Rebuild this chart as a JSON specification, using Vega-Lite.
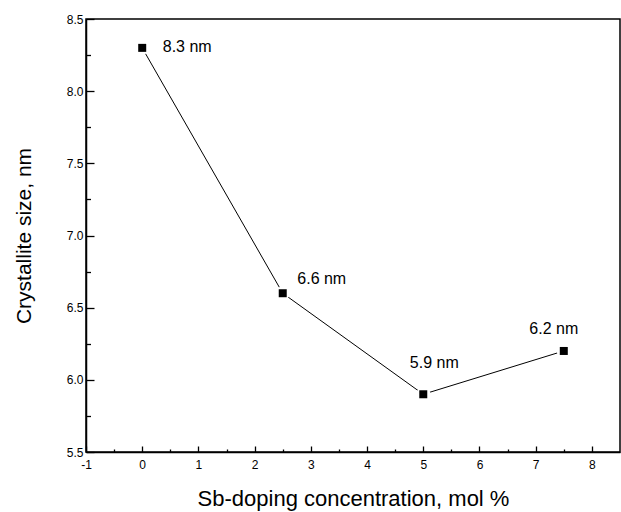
{
  "$schema": "https://vega.github.io/schema/vega-lite/v6.json",
  "width": 534,
  "height": 433,
  "autosize": "none",
  "padding": {"left": 86, "top": 19, "right": 1, "bottom": 60},
  "background": "white",
  "config": {
    "font": "Liberation Sans",
    "view": {"stroke": "black", "strokeWidth": 1.5},
    "axis": {"grid": false, "domainColor": "black", "domainWidth": 1.5, "tickColor": "black", "tickWidth": 1.3, "labelColor": "black", "titleColor": "black", "labelFont": "Liberation Sans", "titleFont": "Liberation Sans", "labelFontSize": 12, "titleFontSize": 21, "titleFontWeight": "normal", "labelFlush": false, "labelOverlap": false}
  },
  "data": {"values": [
    {"conc": 0, "size": 8.3, "label": "8.3 nm"},
    {"conc": 2.5, "size": 6.6, "label": "6.6 nm"},
    {"conc": 5, "size": 5.9, "label": "5.9 nm"},
    {"conc": 7.5, "size": 6.2, "label": "6.2 nm"}
  ]},
  "resolve": {"axis": {"x": "independent", "y": "independent"}},
  "layer": [
    {
      "mark": {"type": "line", "color": "black", "strokeWidth": 1},
      "encoding": {
        "x": {"field": "conc", "type": "quantitative", "scale": {"domain": [-1, 8.5], "nice": false, "zero": false},
          "axis": {"orient": "bottom", "title": "Sb-doping concentration, mol %", "titleFontSize": 22, "values": [-1,0,1,2,3,4,5,6,7,8], "labelExpr": "'' + datum.value", "tickSize": -6, "labelPadding": 13, "titlePadding": 18}},
        "y": {"field": "size", "type": "quantitative", "scale": {"domain": [5.5, 8.5], "nice": false, "zero": false},
          "axis": {"orient": "left", "title": "Crystallite size, nm", "values": [5.5,6,6.5,7,7.5,8,8.5], "format": ".1f", "tickSize": -8, "labelPadding": 11, "titlePadding": 32}}
      }
    },
    {
      "mark": {"type": "point", "shape": "circle", "filled": true, "color": "white", "size": 200, "opacity": 1},
      "encoding": {
        "x": {"field": "conc", "type": "quantitative",
          "axis": {"orient": "bottom", "title": null, "values": [-0.5,0.5,1.5,2.5,3.5,4.5,5.5,6.5,7.5], "labels": false, "domain": false, "tickSize": -3}},
        "y": {"field": "size", "type": "quantitative",
          "axis": {"orient": "left", "title": null, "values": [5.75,6.25,6.75,7.25,7.75,8.25], "labels": false, "domain": false, "tickSize": -4.5}}
      }
    },
    {
      "mark": {"type": "point", "shape": "square", "filled": true, "color": "black", "size": 64, "opacity": 1},
      "encoding": {
        "x": {"field": "conc", "type": "quantitative", "axis": null},
        "y": {"field": "size", "type": "quantitative", "axis": null}
      }
    },
    {
      "transform": [{"filter": "datum.conc === 0"}],
      "mark": {"type": "text", "align": "center", "baseline": "middle", "dx": 45, "dy": -1, "fontSize": 16, "color": "black"},
      "encoding": {"x": {"field": "conc", "type": "quantitative", "axis": null}, "y": {"field": "size", "type": "quantitative", "axis": null}, "text": {"field": "label"}}
    },
    {
      "transform": [{"filter": "datum.conc === 2.5"}],
      "mark": {"type": "text", "align": "center", "baseline": "middle", "dx": 39, "dy": -14, "fontSize": 16, "color": "black"},
      "encoding": {"x": {"field": "conc", "type": "quantitative", "axis": null}, "y": {"field": "size", "type": "quantitative", "axis": null}, "text": {"field": "label"}}
    },
    {
      "transform": [{"filter": "datum.conc === 5"}],
      "mark": {"type": "text", "align": "center", "baseline": "middle", "dx": 11, "dy": -31, "fontSize": 16, "color": "black"},
      "encoding": {"x": {"field": "conc", "type": "quantitative", "axis": null}, "y": {"field": "size", "type": "quantitative", "axis": null}, "text": {"field": "label"}}
    },
    {
      "transform": [{"filter": "datum.conc === 7.5"}],
      "mark": {"type": "text", "align": "center", "baseline": "middle", "dx": -10, "dy": -22, "fontSize": 16, "color": "black"},
      "encoding": {"x": {"field": "conc", "type": "quantitative", "axis": null}, "y": {"field": "size", "type": "quantitative", "axis": null}, "text": {"field": "label"}}
    }
  ]
}
